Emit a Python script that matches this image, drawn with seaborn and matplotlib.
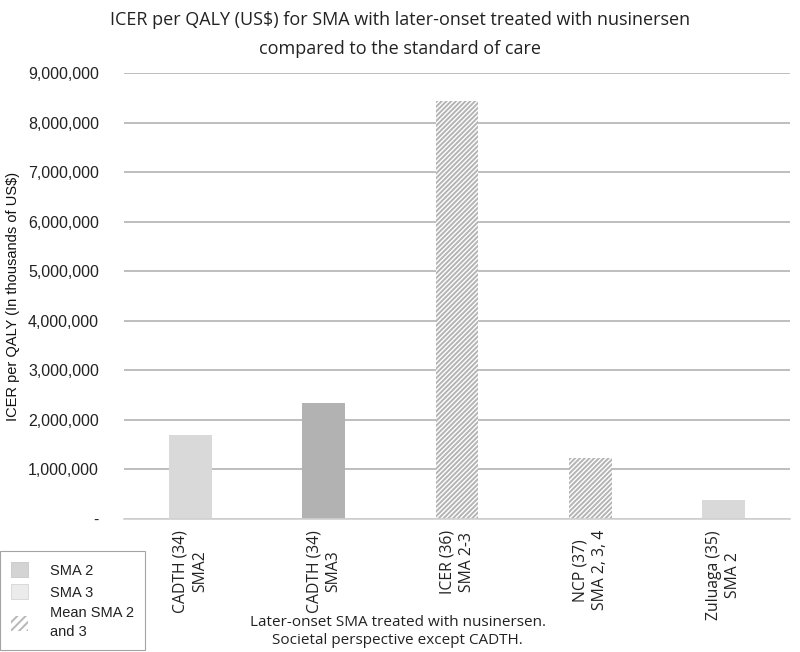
import numpy as np
import pandas as pd
import matplotlib
matplotlib.use('Agg')
import matplotlib.pyplot as plt
import seaborn as sns
from matplotlib.patches import Patch
from matplotlib.ticker import FuncFormatter

# ── data ────────────────────────────────────────────────
studies = ['CADTH (34)\nSMA2', 'CADTH (34)\nSMA3', 'ICER (36)\nSMA 2-3',
           'NCP (37)\nSMA 2, 3, 4', 'Zuluaga (35)\nSMA 2']
icer    = [1690000, 2340000, 8440000, 1230000, 380000]
groups  = ['SMA 2', 'SMA 3', 'Mean SMA 2 and 3', 'Mean SMA 2 and 3', 'SMA 2']
legend_labels = ['SMA 2', 'SMA 3', 'Mean SMA 2\nand 3']

df = pd.DataFrame({'study': studies, 'icer': icer, 'group': groups})

bar_colors = ['#d9d9d9', '#b2b2b2', '#ffffff', '#ffffff', '#d9d9d9']
hatched    = [False, False, True, True, False]

sns.set_style('white')
plt.rcParams['font.family'] = ['Liberation Sans', 'DejaVu Sans']
plt.rcParams['hatch.color'] = '#b4b4b4'
plt.rcParams['hatch.linewidth'] = 1.4

fig = plt.figure(figsize=(8, 6.52), dpi=100)
ax = fig.add_axes([0.155, 0.204, 0.8325, 0.684])

sns.barplot(data=df, x='study', y='icer', hue='study', palette=bar_colors,
            width=0.32, legend=False, ax=ax, edgecolor='none', linewidth=0)
for bar, h in zip(ax.patches, hatched):
    if h:
        bar.set_hatch('///////')
        bar.set_edgecolor('#b4b4b4')
        bar.set_linewidth(0)

ax.set_ylim(0, 9000000)
ax.set_xlim(-0.5, 4.5)
ax.set_yticks(np.arange(0, 9000001, 1000000))
ax.yaxis.set_major_formatter(FuncFormatter(lambda v, p: '-' if v == 0 else f'{int(v):,}'))
ax.grid(axis='y', color='#b3b3b3', linewidth=1.2)
ax.set_axisbelow(True)
for s in ['top', 'right', 'left']:
    ax.spines[s].set_visible(False)
ax.spines['bottom'].set_color('#d0d0d0')
ax.spines['bottom'].set_linewidth(1.2)
ax.tick_params(axis='y', labelsize=11.5, colors='#222222', length=0, pad=18)
ax.tick_params(axis='x', length=0, pad=8)
ax.set_xticks(range(len(studies)))
ax.set_xticklabels(studies, rotation=90, ha='center', va='top',
                   fontsize=11.3, family=['Open Sans', 'DejaVu Sans'], color='#222222',
                   multialignment='center', linespacing=1.3)
ax.set_xlabel('')
ax.set_ylabel('ICER per QALY (In thousands of US$)', fontsize=10.5, color='#111111', labelpad=6)

fig.suptitle('ICER per QALY (US$) for SMA with later-onset treated with nusinersen\ncompared to the standard of care',
             y=0.983, fontsize=13, family=['Open Sans', 'DejaVu Sans'], color='#222222',
             linespacing=1.8)

fig.text(0.497, 0.006, 'Later-onset SMA treated with nusinersen.\nSocietal perspective except CADTH.',
         ha='center', va='bottom', fontsize=11, family=['Open Sans', 'DejaVu Sans'],
         color='#222222', linespacing=1.25)

handles = [Patch(facecolor='#d4d4d4', edgecolor='#c8c8c8', linewidth=0.6),
           Patch(facecolor='#ebebeb', edgecolor='#d6d6d6', linewidth=0.6),
           Patch(facecolor='white', edgecolor='#b8b8b8', hatch='////', linewidth=0)]
leg = fig.legend(handles, legend_labels, loc='lower left', bbox_to_anchor=(0.0, 0.003),
                 fontsize=10.5, frameon=True, fancybox=False, edgecolor='#8c8c8c',
                 handlelength=1.2, handleheight=1.2, handletextpad=1.5,
                 borderpad=0.75, labelspacing=0.45, borderaxespad=0)
leg.get_frame().set_linewidth(0.8)
for t in leg.get_texts():
    t.set_linespacing(1.45)
    t.set_color('#222222')

fig.savefig('out.png', dpi=100)
